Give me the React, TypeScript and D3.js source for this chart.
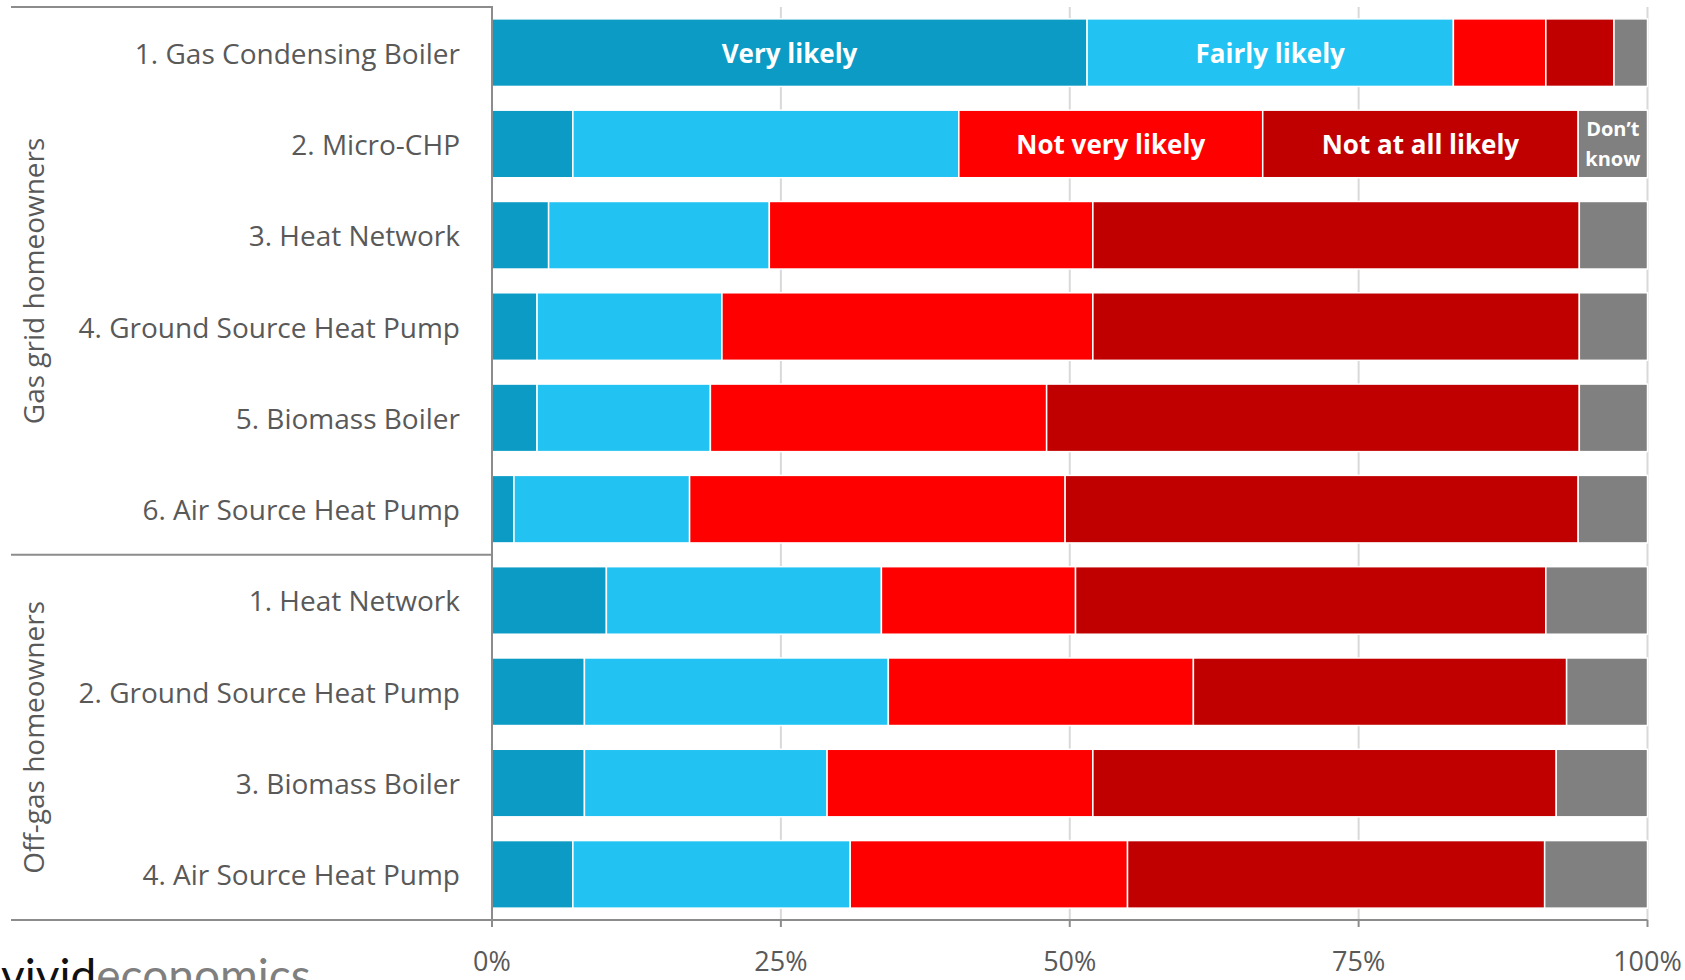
import * as d3 from "d3";

const categories = [
  "1. Gas Condensing Boiler",
  "2. Micro-CHP",
  "3. Heat Network",
  "4. Ground Source Heat Pump",
  "5. Biomass Boiler",
  "6. Air Source Heat Pump",
  "1. Heat Network",
  "2. Ground Source Heat Pump",
  "3. Biomass Boiler",
  "4. Air Source Heat Pump",
];

const groups = ["Gas grid homeowners", "Off-gas homeowners"];
const groupSizes = [6, 4];

const responses = ["Very likely", "Fairly likely", "Not very likely", "Not at all likely", "Don\u2019t know"];
const responseColors = ["#0B9BC5", "#22C3F2", "#FF0000", "#C00000", "#808080"];

const veryLikely = [51.5, 7, 4.9, 3.9, 3.9, 1.9, 9.9, 8, 8, 7];
const fairlyLikely = [31.7, 33.4, 19.1, 16, 15, 15.2, 23.8, 26.3, 21, 24];
const notVeryLikely = [8, 26.3, 28, 32.1, 29.1, 32.5, 16.8, 26.4, 23, 24];
const notAtAllLikely = [5.9, 27.3, 42.1, 42.1, 46.1, 44.4, 40.7, 32.3, 40.1, 36.1];
const dontKnow = [2.9, 6, 5.9, 5.9, 5.9, 6, 8.8, 7, 7.9, 8.9];

// which bar carries the in-bar label of each response
const labelRow = [0, 0, 1, 1, 1];

const xTicks = [0, 25, 50, 75, 100];

const W = 1685;
const H = 980;
const left = 492;
const right = 1647.5;
const top = 7;
const bottom = 920;
const axisColor = "#8C8C8C";
const textColor = "#595959";
const font = "'Open Sans', sans-serif";

export default function App() {
  const series = [veryLikely, fairlyLikely, notVeryLikely, notAtAllLikely, dontKnow];
  const rows = categories.map((c, i) => {
    const r: any = { cat: c };
    responses.forEach((k, j) => (r[k] = series[j][i]));
    return r;
  });
  const stacked = d3.stack<any>().keys(responses)(rows);

  const x = d3.scaleLinear().domain([0, 100]).range([left, right]);
  const y = d3
    .scaleBand()
    .domain(categories)
    .range([top, bottom])
    .paddingInner(0.26)
    .paddingOuter(0.13);
  const step = y.step();

  // group separators
  let acc = 0;
  const groupSpans = groupSizes.map((n) => {
    const s = { y0: top + acc * step, y1: top + (acc + n) * step };
    acc += n;
    return s;
  });

  return (
    <svg
      width={W}
      height={H}
      style={{ position: "absolute", left: 0, top: 0, background: "#fff" }}
      fontFamily={font}
    >
      {/* gridlines */}
      {xTicks.slice(1).map((t) => (
        <line key={t} x1={x(t)} x2={x(t)} y1={top} y2={bottom} stroke="#D9D9D9" strokeWidth={2} />
      ))}

      {/* bars */}
      {stacked.map((s, j) => (
        <g key={s.key} fill={responseColors[j]}>
          {s.map((d, i) => (
            <rect
              key={i}
              x={x(d[0])}
              y={y(categories[i])}
              width={x(d[1]) - x(d[0])}
              height={y.bandwidth()}
              stroke="#fff"
              strokeWidth={1.5}
            />
          ))}
        </g>
      ))}

      {/* in-bar labels */}
      {stacked.map((s, j) => {
        const d = s[labelRow[j]];
        const cx = (x(d[0]) + x(d[1])) / 2;
        const cy = y(categories[labelRow[j]])! + y.bandwidth() / 2;
        if (j === 4) {
          const parts = ["Don\u2019t", "know"];
          return (
            <text key={s.key} x={cx} textAnchor="middle" fill="#fff" fontWeight={700} fontSize={20}>
              {parts.map((p, k) => (
                <tspan key={k} x={cx} y={cy + (k === 0 ? -15 : 15)} dominantBaseline="central">
                  {p}
                </tspan>
              ))}
            </text>
          );
        }
        return (
          <text
            key={s.key}
            x={cx}
            y={cy}
            textAnchor="middle"
            dominantBaseline="central"
            fill="#fff"
            fontWeight={700}
            fontSize={26}
          >
            {responses[j]}
          </text>
        );
      })}

      {/* category labels */}
      {categories.map((c) => (
        <text
          key={c}
          x={460}
          y={y(c)! + y.bandwidth() / 2}
          textAnchor="end"
          dominantBaseline="central"
          fill={textColor}
          fontSize={28}
        >
          {c}
        </text>
      ))}

      {/* group frame and labels */}
      {groupSpans.map((g, i) => (
        <g key={groups[i]}>
          <line x1={11} x2={left} y1={g.y0} y2={g.y0} stroke={axisColor} strokeWidth={2} />
          <text
            transform={`translate(33,${(g.y0 + g.y1) / 2}) rotate(-90)`}
            textAnchor="middle"
            dominantBaseline="central"
            fill={textColor}
            fontSize={28}
          >
            {groups[i]}
          </text>
        </g>
      ))}
      <line x1={11} x2={right} y1={bottom} y2={bottom} stroke={axisColor} strokeWidth={2} />
      <line x1={left} x2={left} y1={top - 1} y2={bottom + 7} stroke={axisColor} strokeWidth={2} />

      {/* x axis ticks */}
      {xTicks.map((t) => (
        <g key={t}>
          <line x1={x(t)} x2={x(t)} y1={bottom} y2={bottom + 7} stroke={axisColor} strokeWidth={2} />
          <text
            x={x(t)}
            y={960}
            textAnchor="middle"
            dominantBaseline="central"
            fill={textColor}
            fontSize={27}
          >
            {t}%
          </text>
        </g>
      ))}

      {/* logo, cropped by the bottom edge as in the original */}
      <text x={1} y={992} fontFamily="Lato, sans-serif" fontWeight={400} fontSize={46}>
        <tspan fill="#111">vivid</tspan>
        <tspan fill="#7f7f7f">economics</tspan>
      </text>
    </svg>
  );
}
